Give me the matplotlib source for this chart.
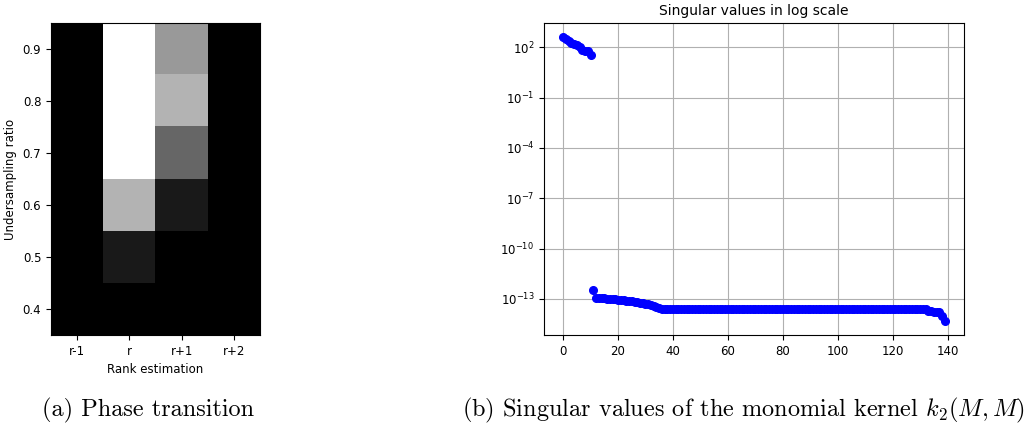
import numpy as np
import matplotlib
matplotlib.use("Agg")
import matplotlib.pyplot as plt
from matplotlib.ticker import NullLocator

# --- data: phase transition (fraction of successes) ---
ratios = [0.4, 0.5, 0.6, 0.7, 0.8, 0.9]
rank_labels = ["r-1", "r", "r+1", "r+2"]
phase = [
    [0.0, 0.0, 0.0, 0.0],   # 0.4
    [0.0, 0.1, 0.0, 0.0],   # 0.5
    [0.0, 0.7, 0.1, 0.0],   # 0.6
    [0.0, 1.0, 0.4, 0.0],   # 0.7
    [0.0, 1.0, 0.7, 0.0],   # 0.8
    [0.0, 1.0, 0.6, 0.0],   # 0.9
]

# --- data: singular values of the monomial kernel ---
sv_head = [394, 288, 229, 174, 145, 132, 100, 69, 63, 58, 35]
sv_jump = [3.5e-13]
sv_decay = [1.2e-13, 1.15e-13, 1.1e-13, 1.08e-13, 1.05e-13, 1.0e-13, 9.8e-14,
            9.5e-14, 9.0e-14, 8.7e-14, 8.3e-14, 8.0e-14, 7.6e-14, 7.2e-14,
            6.8e-14, 6.4e-14, 6.0e-14, 5.6e-14, 5.2e-14, 4.8e-14, 4.3e-14,
            3.8e-14, 3.3e-14, 2.9e-14]
sv_plateau = [2.6e-14] * 97
sv_tail = [2.0e-14, 1.8e-14, 1.75e-14, 1.7e-14, 1.6e-14, 1.0e-14, 5e-15]
sv = np.array(sv_head + sv_jump + sv_decay + sv_plateau + sv_tail)

fig = plt.figure(figsize=(10.35, 4.26), dpi=100)

# left panel
ax1 = fig.add_axes([0.0493, 0.2136, 0.2019, 0.7324])
ax1.imshow(np.array(phase), cmap="gray", vmin=0, vmax=1, origin="lower",
           aspect="auto", interpolation="nearest",
           extent=[-0.5, len(rank_labels) - 0.5, 0.35, 0.95])
ax1.set_xticks(range(len(rank_labels)))
ax1.set_xticklabels(rank_labels)
ax1.set_yticks(ratios)
ax1.tick_params(labelsize=8.5)
ax1.set_xlabel("Rank estimation", fontsize=8.5)
ax1.set_ylabel("Undersampling ratio", fontsize=8.5)

# right panel
ax2 = fig.add_axes([0.5256, 0.2136, 0.4058, 0.7324])
ax2.semilogy(np.arange(len(sv)), sv, "o", color="blue", markersize=5.5)
ax2.set_yticks([1e2, 1e-1, 1e-4, 1e-7, 1e-10, 1e-13])
ax2.yaxis.set_minor_locator(NullLocator())
ax2.grid(True)
ax2.set_title("Singular values in log scale", fontsize=10)
ax2.tick_params(labelsize=8.5)

# captions
fig.text(0.0406, 0.0235, "(a) Phase transition", fontsize=17.5,
         fontfamily="cmr10", math_fontfamily="cm")
fig.text(0.446, 0.0235, r"(b) Singular values of the monomial kernel $k_2(M, M)$",
         fontsize=17.5, fontfamily="cmr10", math_fontfamily="cm")

fig.savefig("out.png", dpi=100)
